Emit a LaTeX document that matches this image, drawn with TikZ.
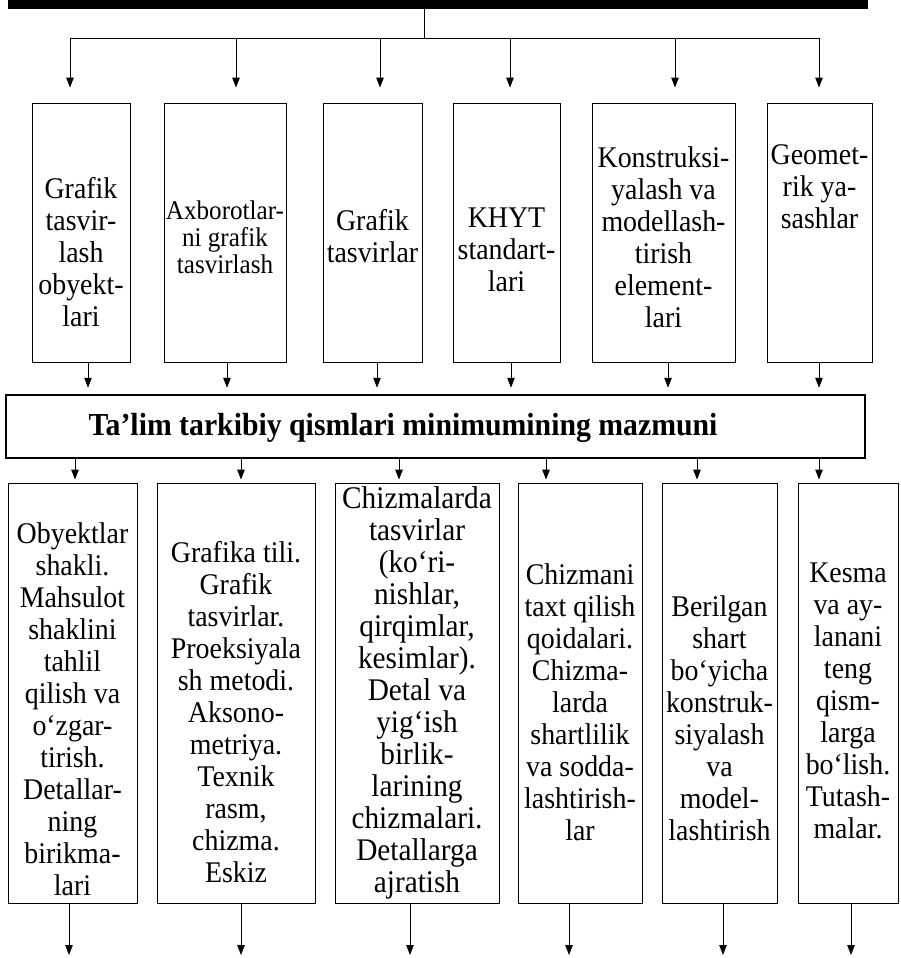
\documentclass[tikz,border=0pt]{standalone}
\usepackage{fontspec}
\setmainfont{Liberation Serif}[FakeStretch=0.93]
\usetikzlibrary{arrows.meta}
\begin{document}
\begin{tikzpicture}[x=1pt,y=-1pt,
  box/.style={draw, line width=0.9pt, inner sep=0pt},
  txt/.style={align=center, inner sep=0pt, font=\fontsize{30}{32}\selectfont},
  ln/.style={line width=0.9pt},
  arr/.style={line width=0.9pt, -{Triangle[length=10pt,width=7.5pt]}}]
\useasboundingbox (0,0) rectangle (901,958);

% title bar (cut off)
\node[fill=black, inner sep=0pt, minimum width=860pt, minimum height=9pt] (title) at (438,4.5) {};

% hub and distribution line
\coordinate (hub) at (424,38);
\coordinate (t1) at (70,38);
\coordinate (t2) at (236,38);
\coordinate (t3) at (380,38);
\coordinate (t4) at (510,38);
\coordinate (t5) at (675,38);
\coordinate (t6) at (819,38);
\draw[ln] (title.south -| hub) -- (hub);
\draw[ln] (t1) -- (t6);

% top boxes
\node[box, minimum width=98pt,  minimum height=259pt] (b1) at (81,232.5) {};
\node[box, minimum width=122pt, minimum height=259pt] (b2) at (225,232.5) {};
\node[box, minimum width=99pt,  minimum height=259pt] (b3) at (372.5,232.5) {};
\node[box, minimum width=107pt, minimum height=259pt] (b4) at (506.5,232.5) {};
\node[box, minimum width=143pt, minimum height=259pt] (b5) at (663.5,232.5) {};
\node[box, minimum width=105pt, minimum height=259pt] (b6) at (819.5,232.5) {};

\node[txt] (tb1) at (81,252) {Grafik\\tasvir-\\lash\\obyekt-\\lari};
\node[txt, font=\fontsize{27}{27}\selectfont] (tb2) at (225,237) {Axborotlar-\\ni grafik\\tasvirlash};
\node[txt] (tb3) at (372.5,236) {Grafik\\tasvirlar};
\node[txt] (tb4) at (506.5,250) {KHYT\\standart-\\lari};
\node[txt] (tb5) at (663.5,237) {Konstruksi-\\yalash va\\modellash-\\tirish\\element-\\lari};
\node[txt] (tb6) at (819.5,187) {Geomet-\\rik ya-\\sashlar};

\foreach \i in {1,...,6} {
  \draw[arr, shorten >=15pt] (t\i) -- (t\i |- b\i.north);
}

% middle box
\node[draw, line width=2.5pt, inner sep=0pt, minimum width=859pt, minimum height=63pt] (mid) at (435.5,426.5) {};
\node[inner sep=0pt, font=\fontsize{32}{34}\selectfont\bfseries] (midtxt) at (403,428) {Ta’lim tarkibiy qismlari minimumining mazmuni};

\coordinate (u1) at (88,0);
\coordinate (u2) at (227,0);
\coordinate (u3) at (377,0);
\coordinate (u4) at (511,0);
\coordinate (u5) at (668,0);
\coordinate (u6) at (819,0);
\foreach \i in {1,...,6} {
  \draw[arr, shorten >=6pt] (b\i.south -| u\i) -- (u\i |- mid.north);
}

% bottom boxes
\node[box, minimum width=129pt, minimum height=420pt] (c1) at (72.5,693) {};
\node[box, minimum width=158pt, minimum height=420pt] (c2) at (236,693) {};
\node[box, minimum width=164pt, minimum height=420pt] (c3) at (417,693) {};
\node[box, minimum width=124pt, minimum height=420pt] (c4) at (580,693) {};
\node[box, minimum width=115pt, minimum height=420pt] (c5) at (719.5,693) {};
\node[box, minimum width=100pt, minimum height=420pt] (c6) at (848,693) {};

\node[txt] (tc1) at (72.5,709) {Obyektlar\\shakli.\\Mahsulot\\shaklini\\tahlil\\qilish va\\o‘zgar-\\tirish.\\Detallar-\\ning\\birikma-\\lari};
\node[txt] (tc2) at (236,712) {Grafika tili.\\Grafik\\tasvirlar.\\Proeksiyala\\sh metodi.\\Aksono-\\metriya.\\Texnik\\rasm,\\chizma.\\Eskiz};
\node[txt, font=\fontsize{31.5}{32}\selectfont] (tc3) at (417,693) {Chizmalarda\\tasvirlar\\(ko‘ri-\\nishlar,\\qirqimlar,\\kesimlar).\\Detal va\\yig‘ish\\birlik-\\larining\\chizmalari.\\Detallarga\\ajratish};
\node[txt] (tc4) at (580,702) {Chizmani\\taxt qilish\\qoidalari.\\Chizma-\\larda\\shartlilik\\va sodda-\\lashtirish-\\lar};
\node[txt] (tc5) at (719.5,718) {Berilgan\\shart\\bo‘yicha\\konstruk-\\siyalash\\va\\model-\\lashtirish};
\node[txt] (tc6) at (848,701) {Kesma\\va ay-\\lanani\\teng\\qism-\\larga\\bo‘lish.\\Tutash-\\malar.};

\coordinate (m1) at (75,0);
\coordinate (m2) at (241,0);
\coordinate (m3) at (399,0);
\coordinate (m4) at (546,0);
\coordinate (m5) at (697,0);
\coordinate (m6) at (819,0);
\foreach \i in {1,...,6} {
  \draw[arr, shorten >=3pt] (mid.south -| m\i) -- (m\i |- c\i.north);
}

\coordinate (e1) at (69,955);
\coordinate (e2) at (241,955);
\coordinate (e3) at (410,955);
\coordinate (e4) at (569,955);
\coordinate (e5) at (723,955);
\coordinate (e6) at (851,955);
\foreach \i in {1,...,6} {
  \draw[arr] (c\i.south -| e\i) -- (e\i);
}
\end{tikzpicture}
\end{document}
